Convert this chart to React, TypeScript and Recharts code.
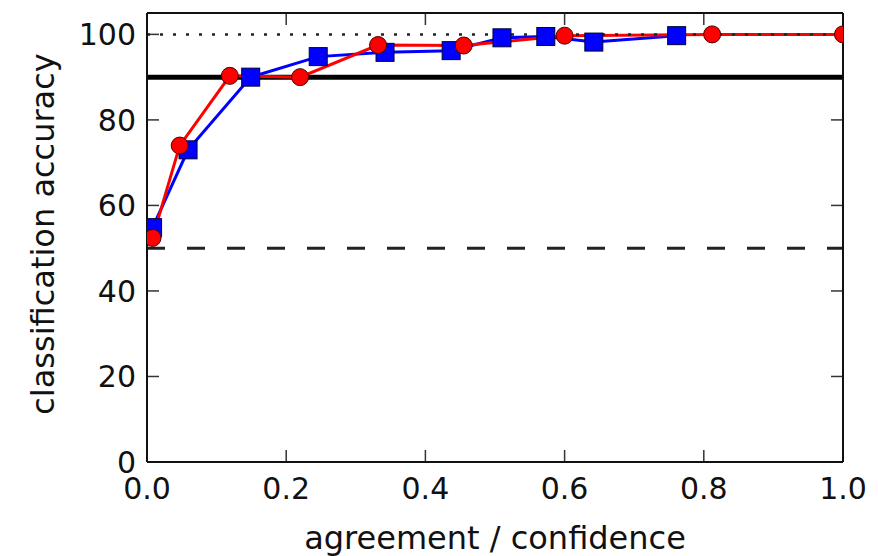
import { LineChart, Line, XAxis, YAxis, ReferenceLine } from 'recharts';

// red circles
const redX = [0.008, 0.047, 0.119, 0.22, 0.332, 0.455, 0.6, 0.812, 1.0];
const redY = [52.4, 74.0, 90.3, 90.0, 97.5, 97.4, 99.7, 100, 100];

// blue squares
const blueX = [0.008, 0.059, 0.149, 0.246, 0.342, 0.437, 0.51, 0.573, 0.642, 0.761];
const blueY = [54.8, 73.0, 90.0, 94.8, 95.8, 96.2, 99.2, 99.5, 98.2, 99.7];

const xTicks = [0, 0.2, 0.4, 0.6, 0.8, 1.0];
const yTicks = [0, 20, 40, 60, 80, 100];

const chanceLevel = 50;
const baselineLevel = 90;
const ceilingLevel = 100;

const redData = redX.map((x, i) => ({ x, acc: redY[i] }));
const blueData = blueX.map((x, i) => ({ x, acc: blueY[i] }));

const FONT = '"DejaVu Sans", sans-serif';
const tickStyle = { fontSize: 30, fill: '#111', fontFamily: FONT };

// inward tick length (12px) in data units: plot is 696 x 449 px, y domain 0..105
const X_MAX = 1;
const Y_MAX = 105;
const dxTick = (12 / 696) * X_MAX;
const dyTick = (12 / 449) * Y_MAX;

const RedDot = (props: any) => {
  const { cx, cy, index } = props;
  return <circle key={`r${index}`} cx={cx} cy={cy} r={8.5} fill="#ff0000" stroke="#4a0000" strokeWidth={1} />;
};

const BlueDot = (props: any) => {
  const { cx, cy, index } = props;
  return <rect key={`b${index}`} x={cx - 9} y={cy - 9} width={18} height={18} fill="#0000ff" stroke="#000033" strokeWidth={1} />;
};

const tickMarks = () => {
  const out: any[] = [];
  xTicks.slice(1, -1).forEach((t) => {
    out.push(
      <ReferenceLine key={`xb${t}`} xAxisId="bottom" yAxisId="left" segment={[{ x: t, y: 0 }, { x: t, y: dyTick }]} stroke="#333" strokeWidth={1.5} />,
      <ReferenceLine key={`xt${t}`} xAxisId="bottom" yAxisId="left" segment={[{ x: t, y: Y_MAX }, { x: t, y: Y_MAX - dyTick }]} stroke="#333" strokeWidth={1.5} />
    );
  });
  yTicks.slice(1).forEach((t) => {
    out.push(
      <ReferenceLine key={`yl${t}`} xAxisId="bottom" yAxisId="left" segment={[{ x: 0, y: t }, { x: dxTick, y: t }]} stroke="#333" strokeWidth={1.5} />,
      <ReferenceLine key={`yr${t}`} xAxisId="bottom" yAxisId="left" segment={[{ x: X_MAX, y: t }, { x: X_MAX - dxTick, y: t }]} stroke="#333" strokeWidth={1.5} />
    );
  });
  return out;
};

const App = () => {
  return (
    <div style={{ width: 878, height: 556 }}>
      <style>{'body{margin:0}'}</style>
      <LineChart width={878} height={556} margin={{ top: 12, right: 34, bottom: 0, left: 0 }}>
        <XAxis
          xAxisId="bottom"
          dataKey="x"
          type="number"
          domain={[0, X_MAX]}
          ticks={xTicks}
          tickFormatter={(v: number) => v.toFixed(1)}
          height={94}
          tickSize={0}
          tickMargin={16}
          tick={tickStyle}
          tickLine={false}
          axisLine={{ stroke: '#111', strokeWidth: 2 }}
          allowDataOverflow
          label={{
            content: () => (
              <text x={495} y={549} textAnchor="middle" fontSize={32} fill="#111" fontFamily={FONT}>
                agreement / confidence
              </text>
            ),
          }}
        />
        <XAxis
          xAxisId="top"
          orientation="top"
          dataKey="x"
          type="number"
          domain={[0, X_MAX]}
          ticks={xTicks}
          height={1}
          tick={false}
          tickLine={false}
          axisLine={{ stroke: '#111', strokeWidth: 2 }}
        />
        <YAxis
          yAxisId="left"
          type="number"
          domain={[0, Y_MAX]}
          ticks={yTicks}
          width={147}
          tickSize={0}
          tickMargin={11}
          tick={tickStyle}
          tickLine={false}
          axisLine={{ stroke: '#111', strokeWidth: 2 }}
          allowDataOverflow
          label={{
            content: () => (
              <text
                x={43}
                y={234}
                transform="rotate(-90 43 234)"
                textAnchor="middle"
                dominantBaseline="central"
                fontSize={32}
                fill="#111"
                fontFamily={FONT}
              >
                classification accuracy
              </text>
            ),
          }}
        />
        <YAxis
          yAxisId="right"
          orientation="right"
          type="number"
          domain={[0, Y_MAX]}
          ticks={yTicks}
          width={1}
          tick={false}
          tickLine={false}
          axisLine={{ stroke: '#111', strokeWidth: 2 }}
        />
        {tickMarks()}
        <ReferenceLine xAxisId="bottom" yAxisId="left" y={chanceLevel} stroke="#222" strokeWidth={3} strokeDasharray="18 22" />
        <ReferenceLine xAxisId="bottom" yAxisId="left" y={baselineLevel} stroke="#000" strokeWidth={5} />
        <Line
          xAxisId="bottom"
          yAxisId="left"
          data={blueData}
          dataKey="acc"
          stroke="#0000ff"
          strokeWidth={3}
          dot={BlueDot}
          activeDot={false}
          isAnimationActive={false}
        />
        <Line
          xAxisId="bottom"
          yAxisId="left"
          data={redData}
          dataKey="acc"
          stroke="#ff0000"
          strokeWidth={3}
          dot={RedDot}
          activeDot={false}
          isAnimationActive={false}
        />
        <ReferenceLine xAxisId="bottom" yAxisId="left" y={ceilingLevel} stroke="#222" strokeWidth={2.5} strokeDasharray="3 10" />
      </LineChart>
    </div>
  );
};

export default App;
